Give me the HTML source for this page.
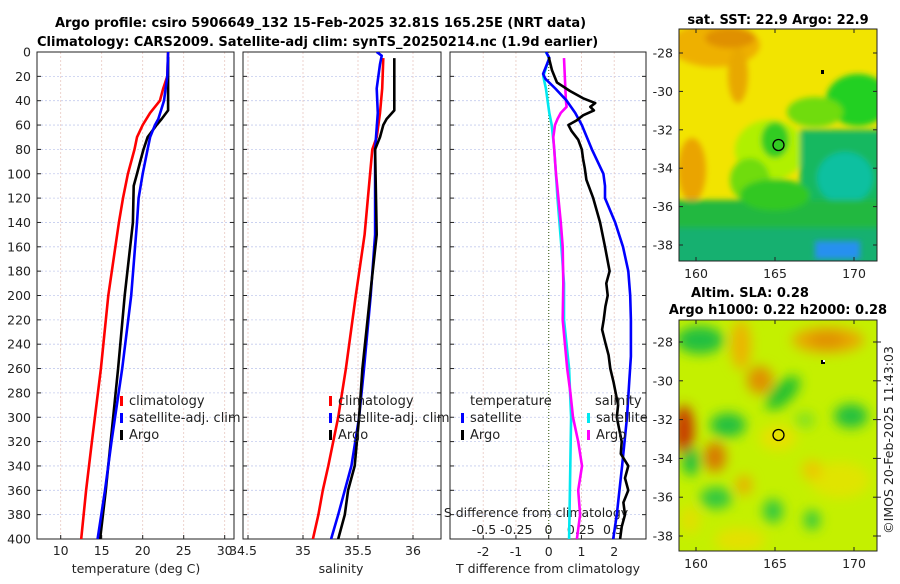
<!DOCTYPE html>
<html><head><meta charset="utf-8">
<style>
html,body{margin:0;padding:0;background:#fff;}
body{width:900px;height:580px;overflow:hidden;font-family:"DejaVu Sans","Liberation Sans",sans-serif;}
svg text{font-family:"DejaVu Sans","Liberation Sans",sans-serif;}
</style></head>
<body>
<svg id="chart" width="900" height="580" viewBox="0 0 900 580" xmlns="http://www.w3.org/2000/svg">
<defs>
<filter id="blur3" x="-50%" y="-50%" width="200%" height="200%"><feGaussianBlur stdDeviation="3"/></filter>
<filter id="blur6" x="-50%" y="-50%" width="200%" height="200%"><feGaussianBlur stdDeviation="6"/></filter>
<clipPath id="clipTop"><rect x="679" y="29" width="198" height="232"/></clipPath>
<clipPath id="clipBot"><rect x="679" y="320" width="198" height="231"/></clipPath>
<clipPath id="clipP1"><rect x="37" y="52" width="197" height="487"/></clipPath>
<clipPath id="clipP2"><rect x="243" y="52" width="198" height="487"/></clipPath>
<clipPath id="clipP3"><rect x="450" y="52" width="196" height="487"/></clipPath>
</defs>
<text x="55" y="27" font-size="13" font-weight="bold">Argo profile: csiro 5906649_132 15-Feb-2025 32.81S 165.25E (NRT data)</text>
<text x="37" y="46" font-size="13" font-weight="bold">Climatology: CARS2009. Satellite-adj clim: synTS_20250214.nc (1.9d earlier)</text>

<!-- SST map -->
<g clip-path="url(#clipTop)">
<rect x="679" y="29" width="198" height="232" fill="#f2e400"/>
<g filter="url(#blur3)">
<ellipse cx="715" cy="45" rx="45" ry="22" fill="#eeb000"/>
<ellipse cx="730" cy="38" rx="25" ry="10" fill="#e09000"/>
<ellipse cx="738" cy="75" rx="10" ry="28" fill="#e8a800"/>
<ellipse cx="692" cy="170" rx="14" ry="32" fill="#eaa400"/>
<ellipse cx="770" cy="150" rx="35" ry="30" fill="#b0f000"/>
<ellipse cx="775" cy="140" rx="14" ry="18" fill="#30cc20"/>
<ellipse cx="750" cy="180" rx="20" ry="22" fill="#70dc10"/>
<ellipse cx="858" cy="100" rx="32" ry="26" fill="#20d020"/>
<ellipse cx="815" cy="112" rx="28" ry="15" fill="#70dc10"/>
<rect x="800" y="130" width="90" height="140" fill="#14b860"/>
<ellipse cx="845" cy="178" rx="28" ry="26" fill="#10c0a0"/>
<rect x="670" y="200" width="220" height="70" fill="#20b840"/>
<rect x="670" y="228" width="220" height="40" fill="#14b070"/>
<ellipse cx="775" cy="195" rx="35" ry="16" fill="#30c820"/>
</g>
<rect x="815" y="241" width="45" height="18" fill="#2890f0" filter="url(#blur3)"/>
<rect x="821" y="70" width="3" height="4" fill="#000"/>
<circle cx="778.5" cy="145" r="5.5" fill="none" stroke="#000" stroke-width="1.3"/>
</g>
<rect x="679" y="29" width="198" height="232" fill="none" stroke="#222" stroke-width="1"/>
<text x="778" y="24" font-size="13" font-weight="bold" text-anchor="middle">sat. SST: 22.9 Argo: 22.9</text>

<!-- SLA map -->
<g clip-path="url(#clipBot)">
<rect x="679" y="320" width="198" height="231" fill="#c4f000"/>
<g filter="url(#blur6)">
<ellipse cx="700" cy="340" rx="24" ry="14" fill="#22c040"/>
<ellipse cx="741" cy="345" rx="10" ry="25" fill="#ecb400"/>
<ellipse cx="760" cy="380" rx="13" ry="14" fill="#e09000"/>
<ellipse cx="828" cy="340" rx="36" ry="13" fill="#e8a800"/>
<ellipse cx="827" cy="340" rx="18" ry="8" fill="#e09000"/>
<ellipse cx="783" cy="393" rx="22" ry="10" fill="#20c030" transform="rotate(-45 783 393)"/>
<ellipse cx="728" cy="425" rx="18" ry="12" fill="#22c040"/>
<ellipse cx="851" cy="416" rx="17" ry="12" fill="#22c040"/>
<ellipse cx="684" cy="430" rx="10" ry="25" fill="#c83800"/>
<ellipse cx="715" cy="457" rx="11" ry="15" fill="#d87800"/>
<ellipse cx="691" cy="462" rx="9" ry="14" fill="#22c040"/>
<ellipse cx="716" cy="498" rx="16" ry="11" fill="#30c840"/>
<ellipse cx="773" cy="511" rx="10" ry="12" fill="#30c840"/>
<ellipse cx="812" cy="520" rx="8" ry="10" fill="#30c840"/>
<ellipse cx="744" cy="485" rx="8" ry="10" fill="#e8b000"/>
<ellipse cx="778" cy="438" rx="18" ry="12" fill="#e8e000"/>
<ellipse cx="840" cy="480" rx="30" ry="18" fill="#e0e400"/>
<ellipse cx="740" cy="540" rx="25" ry="12" fill="#e4e000"/>
<ellipse cx="690" cy="520" rx="10" ry="14" fill="#e0e000"/>
<ellipse cx="812" cy="470" rx="10" ry="10" fill="#ecc800"/>
<ellipse cx="805" cy="420" rx="10" ry="8" fill="#80e020"/>
</g>
<rect x="821" y="360" width="4" height="4" fill="#000"/>
<rect x="823" y="360" width="2" height="2" fill="#fff"/>
<circle cx="778.5" cy="435" r="5.5" fill="none" stroke="#000" stroke-width="1.3"/>
</g>
<rect x="679" y="320" width="198" height="231" fill="none" stroke="#222" stroke-width="1"/>
<text x="750" y="297" font-size="13" font-weight="bold" text-anchor="middle">Altim. SLA: 0.28</text>
<text x="778" y="314" font-size="13" font-weight="bold" text-anchor="middle">Argo h1000: 0.22 h2000: 0.28</text>
<text x="0" y="0" font-size="12.5" fill="#222" text-anchor="middle" transform="translate(893,440) rotate(-90)">©IMOS 20-Feb-2025 11:43:03</text>
<g id="mapaxes"></g>
<g id="plots"></g>
</svg>
<script>
// ---- data ----
const depthTicks = [0,20,40,60,80,100,120,140,160,180,200,220,240,260,280,300,320,340,360,380,400];
const tempTicks = [10,15,20,25,30];
const salTicks = [34.5,35,35.5,36];
const salTickLabels = ["34.5","35","35.5","36"];
const tdiffTicks = [-2,-1,0,1,2];
const sdiffTicks = [-0.5,-0.25,0,0.25,0.5];
const sdiffTickLabels = ["-0.5","-0.25","0","0.25","0.5"];

const climTDepth = [0,20,30,40,50,60,70,80,100,120,140,200,260,320,360,400];
const climTValues = [23.1,23.0,22.5,22.1,20.9,20.0,19.3,19.0,18.2,17.6,17.1,15.8,14.9,13.8,13.1,12.5];
const satTDepth = [0,20,40,55,60,70,80,100,120,140,200,260,320,360,400];
const satTValues = [23.1,23.0,22.6,21.9,21.5,20.9,20.6,20.0,19.5,19.3,18.6,17.5,16.2,15.4,14.5];
const argoTDepth = [4,48,55,60,70,80,90,100,110,140,200,260,320,360,400];
const argoTValues = [23.1,23.1,22.3,21.7,20.6,20.1,19.7,19.3,18.9,18.8,17.8,17.0,16.1,15.5,14.8];

const climSDepth = [5,30,50,70,80,120,150,200,260,300,340,360,380,400];
const climSValues = [35.73,35.72,35.70,35.67,35.63,35.59,35.56,35.48,35.39,35.32,35.23,35.18,35.14,35.09];
const satSDepth = [0,3,10,30,50,80,150,200,260,300,340,360,380,400];
const satSValues = [35.67,35.715,35.70,35.67,35.68,35.655,35.655,35.615,35.555,35.51,35.44,35.38,35.32,35.255];
const argoSDepth = [5,48,55,60,70,80,150,200,260,300,340,360,380,400];
const argoSValues = [35.83,35.83,35.76,35.73,35.70,35.655,35.67,35.61,35.54,35.51,35.47,35.41,35.38,35.32];

const dTSatDepth = [0,5,18,22,30,40,50,60,80,100,110,120,140,160,180,200,220,250,270,300,340,380,400];
const dTSatValues = [-0.08,0.02,-0.17,-0.1,0.2,0.55,0.81,1.01,1.32,1.67,1.72,1.72,2.03,2.27,2.43,2.49,2.51,2.51,2.46,2.39,2.24,2.08,1.97];
const dTArgoDepth = [4,15,25,32,38,42,45,48,52,56,60,65,72,80,88,95,105,120,140,160,180,190,200,209,220,228,239,249,260,271,290,300,320,330,340,350,360,370,380,390,400];
const dTArgoValues = [0,0.1,0.25,0.65,1.05,1.42,1.27,1.38,1.05,0.86,0.6,0.7,0.9,1.01,1.05,1.1,1.15,1.36,1.57,1.72,1.86,1.76,1.8,1.73,1.68,1.63,1.73,1.83,1.88,1.98,2.12,2.08,2.23,2.2,2.43,2.33,2.43,2.28,2.33,2.23,2.18];
const dSSatDepth = [0,5,20,30,50,60,80,120,160,190,220,260,300,400];
const dSSatValues = [-0.02,0.005,-0.04,-0.02,0.006,0.025,0.045,0.07,0.1,0.12,0.12,0.16,0.175,0.16];
const dSArgoDepth = [5,40,45,50,55,60,70,100,140,160,190,220,260,280,300,320,340,360,380,400];
const dSArgoValues = [0.12,0.135,0.14,0.095,0.07,0.05,0.037,0.058,0.095,0.11,0.115,0.11,0.145,0.17,0.19,0.23,0.26,0.23,0.245,0.22];

const mapLonTicks = [160,165,170];
const sstLatTicks = [-28,-30,-32,-34,-36,-38];
const slaLatTicks = [-28,-30,-32,-34,-36,-38];

// ---- axes ----
const NS = "http://www.w3.org/2000/svg";
const yD = d => 52 + d * 1.2175;
const xT = t => 60.7 + (t - 10) * 8.2;
const xS = s => 303 + (s - 35) * 110;
const xDT = t => 548.7 + t * 32.75;
const xDS = s => 548.5 + s * 129;
const lonX = l => 696 + (l - 160) * 15.8;
const latYTop = l => 53 + (-28 - l) * 19.2;
const latYBot = l => 342 + (-28 - l) * 19.4;

const plots = document.getElementById('plots');
const mapaxes = document.getElementById('mapaxes');
function mk(tag, attrs, parent, txt) {
  const e = document.createElementNS(NS, tag);
  for (const k in attrs) e.setAttribute(k, attrs[k]);
  if (txt !== undefined) e.textContent = txt;
  parent.appendChild(e);
  return e;
}

const panels = [
  {name:'temperature-panel', x0:37, x1:234, clip:'clipP1', xf:xT, ticks:tempTicks, labels:tempTicks.map(String), xlabel:'temperature (deg C)', xlx:136},
  {name:'salinity-panel', x0:243, x1:441, clip:'clipP2', xf:xS, ticks:salTicks, labels:salTickLabels, xlabel:'salinity', xlx:341},
  {name:'difference-panel', x0:450, x1:646, clip:'clipP3', xf:xDT, ticks:tdiffTicks, labels:tdiffTicks.map(String), xlabel:'T difference from climatology', xlx:548}
];

panels.forEach((p, pi) => {
  const g = mk('g', {}, plots);
  
  
  depthTicks.forEach(d => {
    const l = mk('line', {x1:p.x0, x2:p.x1, y1:yD(d), y2:yD(d), stroke:'#c4cbee', 'stroke-width':0.8, 'stroke-dasharray':'2,2'}, g);
    
    
  });
  p.ticks.forEach(t => {
    const x = p.xf(t);
    if (x > p.x0 + 1 && x < p.x1 - 1 && !(pi === 2 && t === 0)) {
      const l = mk('line', {x1:x, x2:x, y1:52, y2:539, stroke:'#e8c8c0', 'stroke-width':0.8, 'stroke-dasharray':'2,2'}, g);
      
      
    }
  });
  if (pi === 2) {
    const z = mk('line', {x1:xDT(0), x2:xDT(0), y1:52, y2:539, stroke:'#4a6a2a', 'stroke-width':1.2, 'stroke-dasharray':'1,2'}, g);
    
    
  }
  depthTicks.forEach(d => {
    mk('line', {x1:p.x0, x2:p.x0+4, y1:yD(d), y2:yD(d), stroke:'#222', 'stroke-width':1}, g);
    mk('line', {x1:p.x1-4, x2:p.x1, y1:yD(d), y2:yD(d), stroke:'#222', 'stroke-width':1}, g);
  });
  p.ticks.forEach((t, i) => {
    const x = p.xf(t);
    mk('line', {x1:x, x2:x, y1:535, y2:539, stroke:'#222', 'stroke-width':1}, g);
    const tl = mk('text', {x:(pi===1 && i===0)?x-5:x, y:pi===2?556:555, 'font-size':12.5, 'text-anchor':'middle', fill:'#222'}, g, p.labels[i]);
    
    
  });
  const xl = mk('text', {x:p.xlx, y:573, 'font-size':12.5, 'text-anchor':'middle', fill:'#222'}, g, p.xlabel);
  
  
  mk('rect', {x:p.x0, y:52, width:p.x1-p.x0, height:487, fill:'none', stroke:'#222', 'stroke-width':1}, g);
});

depthTicks.forEach(d => {
  const t = mk('text', {x:31, y:yD(d)+4.5, 'font-size':12.5, 'text-anchor':'end', fill:'#222'}, plots, String(d));
  
  
});

const sdt = mk('text', {x:536, y:517, 'font-size':12.5, 'text-anchor':'middle', fill:'#222'}, plots, 'S difference from climatology');


sdiffTicks.forEach((s, i) => {
  const t = mk('text', {x:xDS(s), y:534, 'font-size':12.5, 'text-anchor':'middle', fill:'#222'}, plots, sdiffTickLabels[i]);
  
  
});

function series(depths, vals, xf, color, clip, name) {
  const pts = depths.map((d, i) => xf(vals[i]).toFixed(1) + ',' + yD(d).toFixed(1)).join(' ');
  const pl = mk('polyline', {points:pts, fill:'none', stroke:color, 'stroke-width':2.6, 'stroke-linejoin':'round', 'clip-path':'url(#'+clip+')'}, plots);
  
  
}
series(climTDepth, climTValues, xT, '#ff0000', 'clipP1', 'climatology-temperature-line');
series(argoTDepth, argoTValues, xT, '#000000', 'clipP1', 'argo-temperature-line');
series(satTDepth, satTValues, xT, '#0000ff', 'clipP1', 'satellite-temperature-line');
series(climSDepth, climSValues, xS, '#ff0000', 'clipP2', 'climatology-salinity-line');
series(satSDepth, satSValues, xS, '#0000ff', 'clipP2', 'satellite-salinity-line');
series(argoSDepth, argoSValues, xS, '#000000', 'clipP2', 'argo-salinity-line');
series(dSSatDepth, dSSatValues, xDS, '#00e8f0', 'clipP3', 'salinity-diff-satellite-line');
series(dSArgoDepth, dSArgoValues, xDS, '#ff00ff', 'clipP3', 'salinity-diff-argo-line');
series(dTSatDepth, dTSatValues, xDT, '#0000ff', 'clipP3', 'temperature-diff-satellite-line');
series(dTArgoDepth, dTArgoValues, xDT, '#000000', 'clipP3', 'temperature-diff-argo-line');

function legendEntry(x, y, color, label) {
  const g = mk('g', {}, plots);
  
  
  if (color) mk('rect', {x:x, y:y-9, width:3, height:10, fill:color}, g);
  mk('text', {x:x+9, y:y, 'font-size':13, fill:'#222'}, g, label);
}
legendEntry(120, 405, '#ff0000', 'climatology');
legendEntry(120, 422, '#0000ff', 'satellite-adj. clim');
legendEntry(120, 439, '#000000', 'Argo');
legendEntry(329, 405, '#ff0000', 'climatology');
legendEntry(329, 422, '#0000ff', 'satellite-adj. clim');
legendEntry(329, 439, '#000000', 'Argo');
legendEntry(461, 405, null, 'temperature');
legendEntry(461, 422, '#0000ff', 'satellite');
legendEntry(461, 439, '#000000', 'Argo');
legendEntry(586, 405, null, 'salinity');
legendEntry(587, 422, '#00e8f0', 'satellite');
legendEntry(587, 439, '#ff00ff', 'Argo');

function mapAxis(y0, y1, latY, latTicks, rightTicks) {
  mapLonTicks.forEach(l => {
    const x = lonX(l);
    mk('line', {x1:x, x2:x, y1:y1-4, y2:y1, stroke:'#222'}, mapaxes);
    mk('line', {x1:x, x2:x, y1:y0, y2:y0+4, stroke:'#222'}, mapaxes);
    const t = mk('text', {x:x, y:y1+17, 'font-size':12.5, 'text-anchor':'middle', fill:'#222'}, mapaxes, String(l));
    
    
  });
  latTicks.forEach(l => {
    const y = latY(l);
    mk('line', {x1:679, x2:683, y1:y, y2:y, stroke:'#222'}, mapaxes);
    mk('line', {x1:873, x2:877, y1:y, y2:y, stroke:'#222'}, mapaxes);
    if (rightTicks) mk('line', {x1:877, x2:881, y1:y, y2:y, stroke:'#222'}, mapaxes);
    const t = mk('text', {x:673, y:y+4.5, 'font-size':12.5, 'text-anchor':'end', fill:'#222'}, mapaxes, String(l));
    
    
  });
}
mapAxis(29, 261, latYTop, sstLatTicks, false);
mapAxis(320, 551, latYBot, slaLatTicks, true);
</script>
</body></html>
